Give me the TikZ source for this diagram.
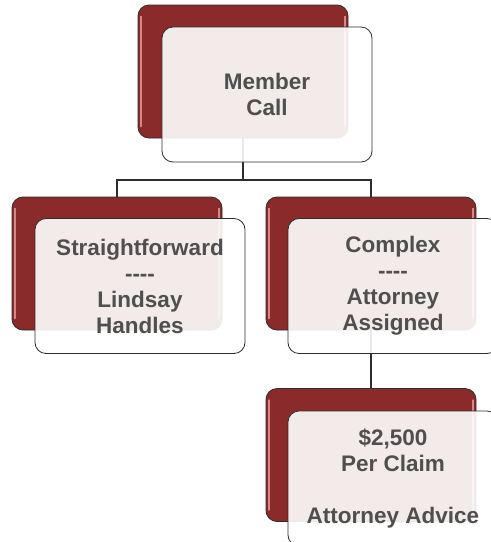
\documentclass[tikz,border=0pt]{standalone}
\usepackage{fontspec}
\setmainfont[Ligatures=NoCommon]{Liberation Sans}
\definecolor{boxred}{HTML}{8B2A2A}
\definecolor{edgegray}{HTML}{2E2E2E}
\definecolor{txtgray}{HTML}{4F4F4F}
\definecolor{glossred}{HTML}{E09A9A}
\newcommand{\dashrow}{-{}-{}-{}-}
\begin{document}
\begin{tikzpicture}[x=1pt,y=-1pt,
  redbox/.style={draw=edgegray,line width=0.8pt,fill=boxred,rounded corners=11pt,
    minimum width=210pt,minimum height=133pt,inner sep=0pt},
  whitebox/.style={draw=edgegray,line width=0.8pt,fill=white,fill opacity=0.9,text opacity=1,
    rounded corners=11pt,minimum width=210pt,minimum height=135pt,inner sep=0pt,
    text=txtgray,font=\fontsize{22.5}{26}\selectfont\bfseries,align=center},
  gloss/.style={draw=glossred,line width=1.6pt,line cap=round,opacity=0.85},
  conn/.style={draw=edgegray,line width=1.2pt}]
\useasboundingbox (0,0) rectangle (491,542);
\fill[white] (0,0) rectangle (491,542);
% connectors (behind boxes)
\coordinate (j) at (243,180);
\node[redbox,draw=none,fill=none] (tr0) at (243,71.5) {};
\node[redbox,draw=none,fill=none] (lr0) at (117,263.5) {};
\node[redbox,draw=none,fill=none] (rr0) at (371,263.5) {};
\node[redbox,draw=none,fill=none] (br0) at (371,455) {};
\draw[conn] (tr0.center) -- (j) -| (lr0.north);
\draw[conn] (j) -| (rr0.north);
\draw[conn] (rr0.center) -- (br0.north);
% red boxes
\foreach \n/\p in {tr/{(243,71.5)},lr/{(117,263.5)},rr/{(371,263.5)},br/{(371,455)}}{
  \node[redbox] (\n) at \p {};
  \draw[gloss] ([xshift=3.5pt,yshift=-12pt]\n.north west) -- ([xshift=3.5pt,yshift=12pt]\n.south west);
  \draw[gloss] ([xshift=-3.5pt,yshift=-12pt]\n.north east) -- ([xshift=-3.5pt,yshift=12pt]\n.south east);
}
% white boxes
\node[whitebox] (tw) at (267,94.5) {Member\\Call};
\node[whitebox] (lw) at (140,286) {Straightforward\\\dashrow\\Lindsay\\Handles};
\node[whitebox] (rw) at (393,286) {Complex\\\dashrow\\Attorney\\Assigned};
\node[whitebox] (bw) at (393,478.5) {\$2,500\\Per Claim\\[26pt]Attorney Advice};
\end{tikzpicture}
\end{document}
